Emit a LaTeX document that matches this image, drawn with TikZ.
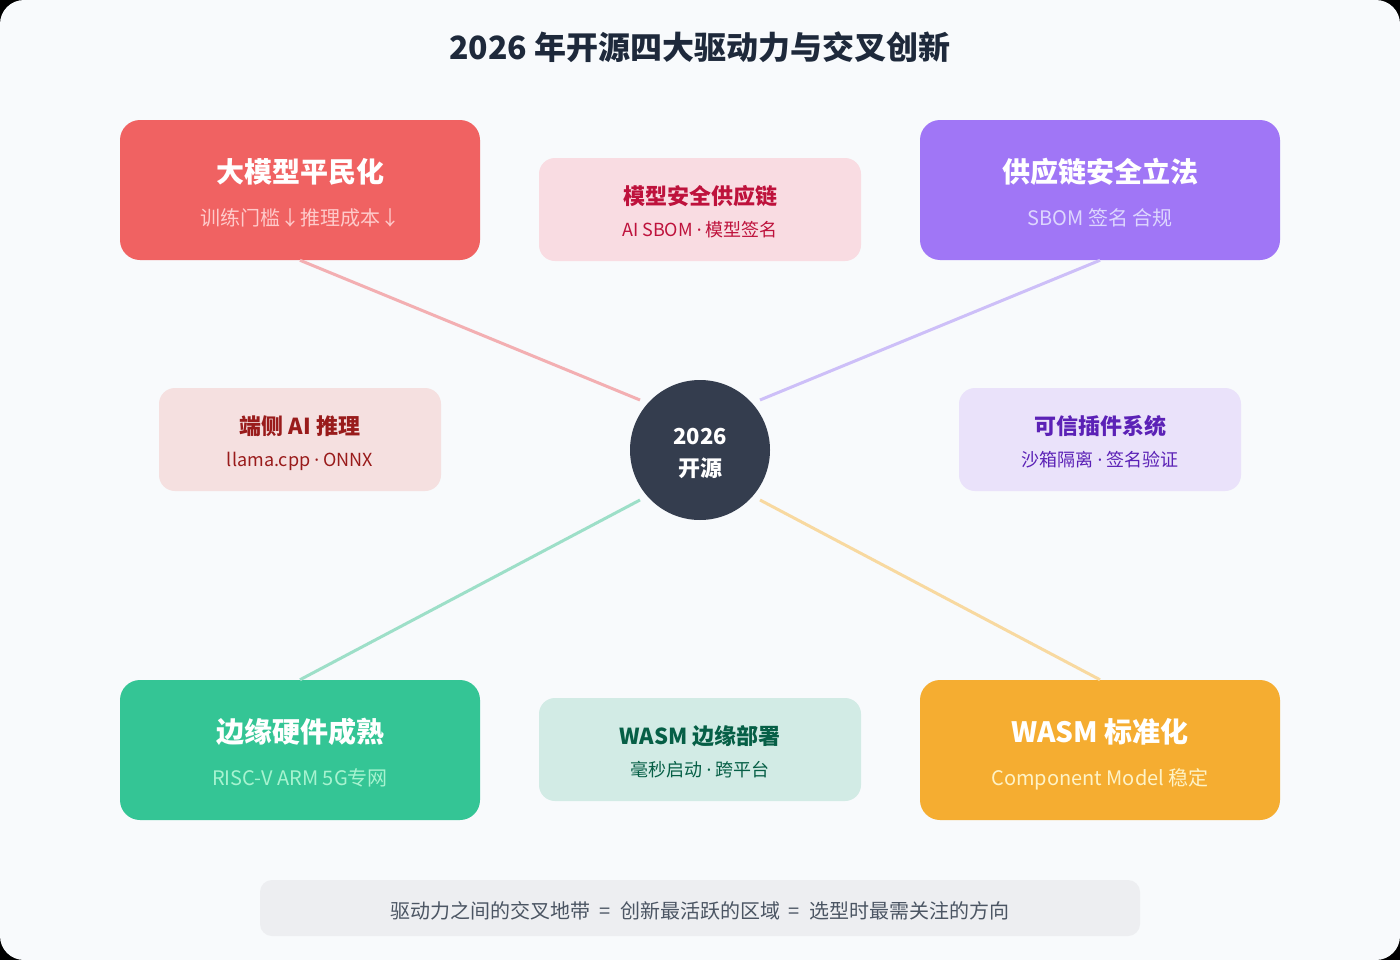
\documentclass[tikz,border=0pt]{standalone}
\usepackage{fontspec}
\setmainfont{Noto Sans CJK SC}
\newfontfamily\dotfont{Noto Sans}
\newcommand{\middot}{{\dotfont ·}}
\usetikzlibrary{positioning}

\definecolor{bgpage}{HTML}{F8FAFC}
\definecolor{ink}{HTML}{1E293B}
\definecolor{hubfill}{HTML}{343D4E}
\definecolor{redbox}{HTML}{F06262}
\definecolor{purplebox}{HTML}{A076F6}
\definecolor{greenbox}{HTML}{34C595}
\definecolor{orangebox}{HTML}{F5AD31}
\definecolor{redline}{HTML}{F3AFB2}
\definecolor{purpleline}{HTML}{CDBFF8}
\definecolor{greenline}{HTML}{9DDFC8}
\definecolor{orangeline}{HTML}{F8D9A0}
\definecolor{pinkfill}{HTML}{F9DCE2}
\definecolor{pinkink}{HTML}{BE123C}
\definecolor{rosefill}{HTML}{F5E0E0}
\definecolor{roseink}{HTML}{991B1B}
\definecolor{lilacfill}{HTML}{EAE2FA}
\definecolor{lilacink}{HTML}{5B21B6}
\definecolor{mintfill}{HTML}{D2EBE5}
\definecolor{mintink}{HTML}{065F46}
\definecolor{notefill}{HTML}{EDEEF1}
\definecolor{noteink}{HTML}{4B5563}
\definecolor{redsub}{HTML}{FECACA}
\definecolor{purplesub}{HTML}{DDD6FE}
\definecolor{greensub}{HTML}{A7F3D0}
\definecolor{orangesub}{HTML}{FEF3C7}

\begin{document}
\begin{tikzpicture}[x=0.75pt,y=-0.75pt,
	big/.style={rounded corners=15pt,minimum width=270pt,minimum height=105pt,inner sep=0pt},
	small/.style={rounded corners=12pt,minimum width=241.5pt,minimum height=77.25pt,inner sep=0pt},
	side/.style={small,minimum width=211.5pt},
	bigtitle/.style={anchor=base,inner sep=0pt,text=white,font=\fontsize{21pt}{21pt}\selectfont\bfseries},
	bigsub/.style={anchor=base,inner sep=0pt,font=\fontsize{15pt}{15pt}\selectfont},
	smalltitle/.style={anchor=base,inner sep=0pt,font=\fontsize{16.5pt}{16.5pt}\selectfont\bfseries},
	smallsub/.style={anchor=base,inner sep=0pt,font=\fontsize{13.5pt}{13.5pt}\selectfont},
	link/.style={line width=2.25pt}]
	% page
	\fill[black] (0,0) rectangle (1400,960);
	\fill[bgpage,rounded corners=18pt] (0,0) rectangle (1400,960);
	\node[anchor=base,inner sep=0pt,text=ink,font=\fontsize{24pt}{24pt}\selectfont\bfseries] (title) at (700,60) {2026 年开源四大驱动力与交叉创新};
	% drivers
	\node[big,fill=redbox] (d_1) at (300,190) {};
	\node[big,fill=purplebox] (d_2) at (1100,190) {};
	\node[big,fill=greenbox] (d_3) at (300,750) {};
	\node[big,fill=orangebox] (d_4) at (1100,750) {};
	\coordinate (h_1) at (640,400);
	\coordinate (h_2) at (760,400);
	\coordinate (h_3) at (640,500);
	\coordinate (h_4) at (760,500);
	\draw[link,redline] (d_1.south) -- (h_1);
	\draw[link,purpleline] (d_2.south) -- (h_2);
	\draw[link,greenline] (d_3.north) -- (h_3);
	\draw[link,orangeline] (d_4.north) -- (h_4);
	\node[circle,fill=hubfill,minimum size=105pt,inner sep=0pt] (hub) at (700,450) {};
	\node[anchor=base,inner sep=0pt,text=white,font=\fontsize{16.5pt}{16.5pt}\selectfont\bfseries] (hub_a) at (700,444) {2026};
	\node[anchor=base,inner sep=0pt,text=white,font=\fontsize{16.5pt}{16.5pt}\selectfont\bfseries] (hub_b) at (700,476) {开源};
	\node[bigtitle] (t_1) at (300,182) {大模型平民化};
	\node[bigsub,text=redsub] (s_1) at (300,225) {训练门槛↓推理成本↓};
	\node[bigtitle] (t_2) at (1100,182) {供应链安全立法};
	\node[bigsub,text=purplesub] (s_2) at (1100,225) {SBOM 签名 合规};
	\node[bigtitle] (t_3) at (300,742) {边缘硬件成熟};
	\node[bigsub,text=greensub] (s_3) at (300,785) {RISC-V ARM 5G专网};
	\node[bigtitle] (t_4) at (1100,742) {WASM 标准化};
	\node[bigsub,text=orangesub] (s_4) at (1100,785) {Component Model 稳定};
	% crossings
	\node[small,fill=pinkfill] (x_1) at (700,209.5) {};
	\node[smalltitle,text=pinkink] (xt_1) at (700,204) {模型安全供应链};
	\node[smallsub,text=pinkink] (xs_1) at (700,236) {AI SBOM \middot\ 模型签名};
	\node[side,fill=rosefill] (x_2) at (300,439.5) {};
	\node[smalltitle,text=roseink] (xt_2) at (300,434) {端侧 AI 推理};
	\node[smallsub,text=roseink] (xs_2) at (300,466) {llama.cpp \middot\ ONNX};
	\node[side,fill=lilacfill] (x_3) at (1100,439.5) {};
	\node[smalltitle,text=lilacink] (xt_3) at (1100,434) {可信插件系统};
	\node[smallsub,text=lilacink] (xs_3) at (1100,466) {沙箱隔离 \middot\ 签名验证};
	\node[small,fill=mintfill] (x_4) at (700,749.5) {};
	\node[smalltitle,text=mintink] (xt_4) at (700,744) {WASM 边缘部署};
	\node[smallsub,text=mintink] (xs_4) at (700,776) {毫秒启动 \middot\ 跨平台};
	% note
	\node[rounded corners=9pt,fill=notefill,minimum width=660pt,minimum height=42pt,inner sep=0pt] (note) at (700,908) {};
	\node[anchor=base,inner sep=0pt,text=noteink,font=\fontsize{15pt}{15pt}\selectfont] (note_t) at (700,918) {驱动力之间的交叉地带\ \ =\ \ 创新最活跃的区域\ \ =\ \ 选型时最需关注的方向};
\end{tikzpicture}
\end{document}
